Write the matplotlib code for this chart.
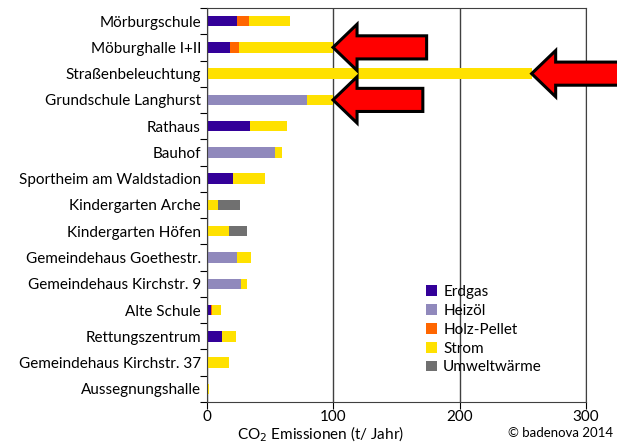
import numpy as np
import matplotlib
matplotlib.use('Agg')
import matplotlib.pyplot as plt
from matplotlib.patches import Polygon

plt.rcParams['font.family'] = ['Lato', 'DejaVu Sans']

# Gebäude (von oben nach unten)
gebaeude = ['Mörburgschule', 'Möburghalle I+II', 'Straßenbeleuchtung',
            'Grundschule Langhurst', 'Rathaus', 'Bauhof',
            'Sportheim am Waldstadion', 'Kindergarten Arche',
            'Kindergarten Höfen', 'Gemeindehaus Goethestr.',
            'Gemeindehaus Kirchstr. 9', 'Alte Schule', 'Rettungszentrum',
            'Gemeindehaus Kirchstr. 37', 'Aussegnungshalle']

# CO2-Emissionen in t/Jahr
erdgas = [24, 18.6, 0, 0, 34.4, 0, 20.6, 0, 0, 0, 0, 3.6, 12.3, 0, 0]
heizoel = [0, 0, 0, 79.2, 0, 54, 0, 0, 0, 24, 27, 0, 0, 0, 0]
holz = [9.6, 6.7, 0, 0, 0, 0, 0, 0, 0, 0, 0, 0.5, 0, 0, 0]
strom = [32.4, 74.7, 257, 20.8, 29.2, 5.7, 25.6, 8.9, 17.8, 11.2, 5, 7.4, 10.8, 17.5, 1.7]
umwelt = [0, 0, 0, 0, 0, 0, 0, 17.6, 14, 0, 0, 0, 0, 0, 0]

serien = ['Erdgas', 'Heizöl', 'Holz-Pellet', 'Strom', 'Umweltwärme']
farben = ['#330099', '#9089bc', '#ff6600', '#ffe100', '#707070']

# Balken mit Pfeil
pfeil_idx = [1, 2, 3]

fig = plt.figure(figsize=(6.17, 4.43), dpi=100)
ax = fig.add_axes([0.3347, 0.0926, 0.6151, 0.8894])

y = np.arange(len(gebaeude))
links = np.zeros(len(gebaeude))
for name, werte, farbe in zip(serien, [erdgas, heizoel, holz, strom, umwelt], farben):
    werte = np.array(werte, dtype=float)
    ax.barh(y, werte, left=links, height=0.4, color=farbe, label=name, zorder=2)
    links += werte

ax.set_xlim(0, 300)
ax.set_ylim(len(gebaeude) - 0.5, -0.5)
ax.set_xticks([0, 100, 200, 300])
ax.tick_params(axis='x', direction='out', length=5, pad=1, labelsize=11, colors='black')
ax.set_yticks(np.arange(len(gebaeude) + 1) - 0.5)
ax.set_yticklabels([])
ax.tick_params(axis='y', which='major', direction='out', length=5)
ax.set_yticks(y, minor=True)
ax.set_yticklabels(gebaeude, minor=True, fontsize=11)
ax.tick_params(axis='y', which='minor', length=0, pad=4)
ax.grid(axis='x', color='#404040', linewidth=1, zorder=0)
for s in ax.spines.values():
    s.set_color('#404040')

ax.set_xlabel('CO$_2$ Emissionen (t/ Jahr)', fontsize=11)
ax.xaxis.set_label_coords(0.30, -0.058)

leg = ax.legend(loc='lower right', bbox_to_anchor=(0.92, 0.035), frameon=False,
                fontsize=11, handlelength=0.7, handleheight=0.7,
                handletextpad=0.4, labelspacing=0.32)

# rote Pfeile
kopf_l = 19
kopf_h = 0.88
schaft_h = 0.44
laengen = {1: 74, 2: 90, 3: 71}
for i in pfeil_idx:
    tip = links[i]
    L = laengen[i]
    pts = [(tip, i), (tip + kopf_l, i - kopf_h), (tip + kopf_l, i - schaft_h),
           (tip + L, i - schaft_h), (tip + L, i + schaft_h),
           (tip + kopf_l, i + schaft_h), (tip + kopf_l, i + kopf_h)]
    ax.add_patch(Polygon(pts, closed=True, facecolor='#ff0000', edgecolor='black',
                         linewidth=2.2, zorder=5, clip_on=False))

fig.text(0.993, 0.008, '© badenova 2014', ha='right', va='bottom', fontsize=9.5)

fig.savefig('out.png', dpi=100)
